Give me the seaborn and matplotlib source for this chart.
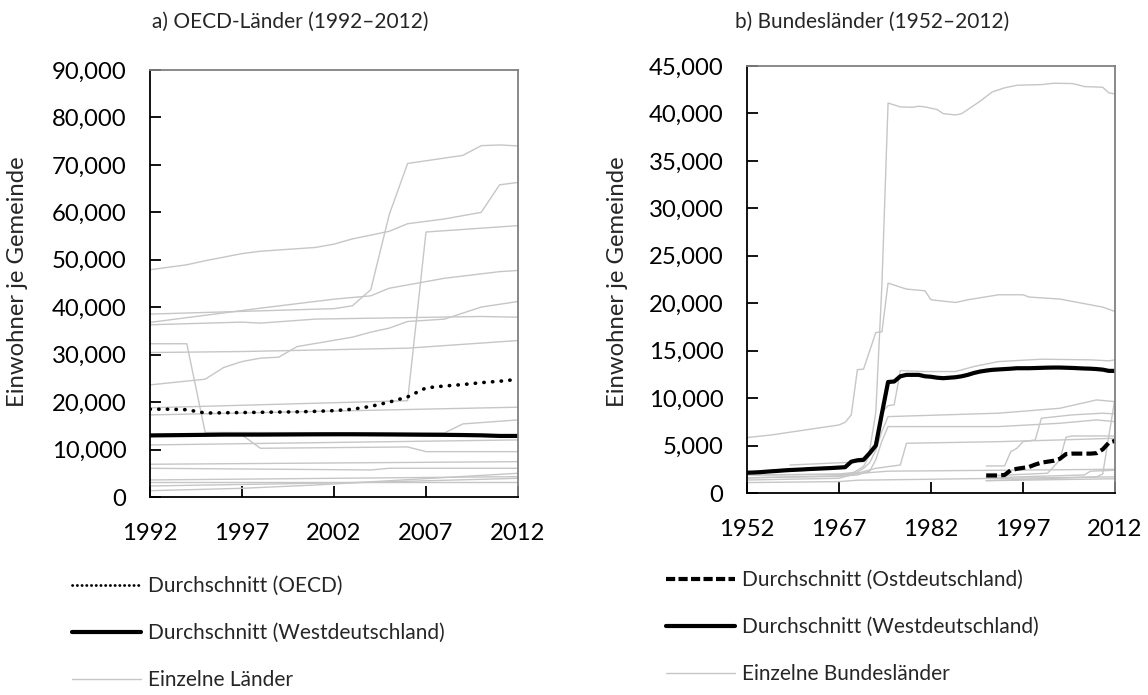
import numpy as np
import pandas as pd
import matplotlib
matplotlib.use("Agg")
import matplotlib.pyplot as plt
import seaborn as sns
from matplotlib.lines import Line2D
from matplotlib.ticker import FuncFormatter, MultipleLocator

sns.set_theme(style="white")
plt.rcParams["font.family"] = ["Lato", "DejaVu Sans"]

# ---------------- data: panel a) OECD countries (vertex years / values) ----------------
oecd_years = list(range(1992, 2013))
oecd_avg = [18500, 18500, 18400, 17700, 17750, 17800, 17850, 17900, 17950, 18050, 18200,
            18500, 19100, 20000, 21100, 23000, 23400, 23700, 24100, 24400, 24800]

country_years = [
    [1992, 2002, 2003, 2004, 2005, 2006, 2009, 2010, 2011, 2012],
    [1992, 1994, 1995, 1997, 1998, 2001, 2002, 2003, 2005, 2006, 2008, 2010, 2011, 2012],
    [1992, 2006, 2007, 2012],
    [1992, 1994, 1998, 2002, 2004, 2005, 2008, 2011, 2012],
    [1992, 1997, 1998, 2001, 2010, 2012],
    [1992, 1995, 1996, 1997, 1998, 1999, 2000, 2003, 2004, 2005, 2006, 2008, 2009, 2010, 2012],
    [1992, 1997, 2006, 2012],
    [1992, 1994, 1995, 2008, 2009, 2012],
    [1992, 2012],
    [1992, 1997, 1998, 2006, 2007, 2012],
    [1992, 2012],
    [1992, 2012],
    [1992, 2004, 2005, 2012],
    [1992, 2012],
    [1992, 2012],
    [1992, 2004, 2012],
    [1992, 1997, 2001, 2012],
]
country_values = [
    [38550, 39700, 40300, 43700, 59500, 70300, 72000, 74050, 74200, 74000],
    [47900, 48950, 49800, 51300, 51800, 52600, 53300, 54400, 56000, 57600, 58600, 60000, 65800, 66300],
    [18800, 20300, 55850, 57200],
    [36800, 37800, 39800, 41700, 42400, 44000, 46100, 47500, 47750],
    [36300, 36860, 36650, 37500, 38050, 37900],
    [23630, 24830, 27290, 28550, 29260, 29480, 31710, 33690, 34750, 35590, 36990, 37490, 38760, 40030, 41210],
    [30450, 30660, 31370, 32980],
    [32300, 32300, 13600, 13500, 15400, 16250],
    [17300, 18930],
    [13000, 13080, 10270, 10550, 9560, 9560],
    [10970, 12030],
    [6900, 7450],
    [6050, 5700, 6050, 6050],
    [3590, 4290],
    [3100, 3100],
    [2320, 3100, 3940],
    [1330, 1830, 2530, 5000],
]

# ---------------- data: panel b) German states ----------------
west_years = list(range(1952, 2013))
west_avg = [2140, 2160, 2190, 2240, 2290, 2330, 2380, 2420, 2450, 2480, 2520, 2550, 2580, 2610,
            2640, 2680, 2720, 3300, 3450, 3500, 4200, 5000, 8400, 11700, 11750, 12300, 12450,
            12450, 12450, 12300, 12250, 12150, 12100, 12150, 12200, 12300, 12450, 12650, 12800,
            12900, 12980, 13020, 13060, 13100, 13150, 13150, 13150, 13170, 13190, 13210, 13220,
            13220, 13200, 13180, 13150, 13120, 13100, 13060, 13000, 12870, 12870]

east_years = list(range(1991, 2013))
east_avg = [1850, 1850, 1850, 1900, 2400, 2550, 2650, 2750, 3000, 3200, 3300, 3400, 3600,
            4100, 4150, 4150, 4150, 4150, 4200, 4600, 5300, 5500]

state_years = [
    [1959, 1971, 1972, 1973, 1974, 1975, 1977, 1979, 1980, 1981, 1983, 1984, 1986, 1987, 1988,
     1990, 1992, 1994, 1996, 2000, 2002, 2005, 2006, 2007, 2010, 2011, 2012],
    [1952, 1956, 1967, 1968, 1969, 1970, 1971, 1973, 1974, 1975, 1978, 1981, 1982, 1986, 1988,
     1993, 1997, 1998, 2003, 2010, 2012],
    [1952, 1960, 1967, 1969, 1971, 1972, 1973, 1974, 1975, 1976, 1977, 1981, 1986, 1989, 1993,
     2000, 2008, 2011, 2012],
    [1952, 1960, 1967, 1970, 1972, 1973, 1974, 1975, 1993, 2003, 2009, 2012],
    [1952, 1960, 1967, 1970, 1971, 1972, 1973, 1974, 1975, 1993, 2003, 2009, 2012],
    [1952, 1967, 1970, 1973, 1975, 1977, 1978, 1993, 2003, 2012],
    [1952, 1967, 1970, 1975, 2012],
    [1952, 1967, 1970, 2012],
    [1991, 1994, 1995, 1996, 1997, 1999, 2000, 2005, 2010, 2012],
    [1991, 2001, 2003, 2004, 2005, 2012],
    [1991, 2009, 2010, 2011, 2012],
    [1991, 2012],
    [1991, 2007, 2008, 2012],
]
state_values = [
    [2950, 3300, 4500, 8500, 22000, 41100, 40690, 40650, 40760, 40690, 40410, 39980, 39840,
     39980, 40410, 41290, 42270, 42700, 42970, 43040, 43180, 43150, 43010, 42830, 42760, 42170, 42060],
    [5840, 6120, 7170, 7450, 8230, 13000, 13050, 16910, 16990, 22120, 21490, 21310, 20360,
     20080, 20360, 20890, 20890, 20650, 20440, 19590, 19130],
    [1600, 1700, 1800, 2000, 2800, 4000, 5000, 8500, 9200, 9300, 12900, 12800, 12800, 13330,
     13850, 14100, 14030, 13930, 14030],
    [1600, 1700, 1750, 1900, 2300, 3500, 5500, 7000, 7000, 7350, 7700, 7520],
    [1900, 1950, 2000, 2200, 2600, 3200, 4500, 6500, 8050, 8410, 8930, 9810, 9630],
    [1370, 1550, 2080, 2600, 2780, 2950, 5240, 5410, 5590, 5770],
    [1900, 1950, 2050, 2300, 2500],
    [1100, 1200, 1350, 1700],
    [2850, 2850, 4360, 4710, 5410, 5590, 7880, 8230, 8410, 8330],
    [1800, 2080, 3480, 5870, 6010, 6010],
    [1300, 1700, 2000, 6000, 10000],
    [1300, 1500],
    [1600, 1900, 2300, 2400],
]

titles = ["a) OECD-Länder (1992–2012)", "b) Bundesländer (1952–2012)"]
ylabel = "Einwohner je Gemeinde"
legend_a = ["Durchschnitt (OECD)", "Durchschnitt (Westdeutschland)", "Einzelne Länder"]
legend_b = ["Durchschnitt (Ostdeutschland)", "Durchschnitt (Westdeutschland)", "Einzelne Bundesländer"]


def long_frame(years_list, values_list):
    rows = []
    for i, (ys, vs) in enumerate(zip(years_list, values_list)):
        for y, v in zip(ys, vs):
            rows.append({"id": i, "year": y, "value": v})
    return pd.DataFrame(rows)


df_countries = long_frame(country_years, country_values)
df_states = long_frame(state_years, state_values)
df_west = pd.DataFrame({"year": west_years, "value": west_avg})
df_west_a = df_west[df_west["year"] >= 1992]
df_east = pd.DataFrame({"year": east_years, "value": east_avg})
df_oecd = pd.DataFrame({"year": oecd_years, "value": oecd_avg})

GRAY = "#c6c6c6"
FS = 17.2       # tick labels, axis label
FS_TXT = 15     # titles, legend

fig = plt.figure(figsize=(11.48, 6.95), dpi=100)
axL = fig.add_axes([150 / 1148, 1 - 497 / 695, 368 / 1148, 427 / 695])
axR = fig.add_axes([747 / 1148, 1 - 493 / 695, 368 / 1148, 427 / 695])

dot_style = (0, (0.1, 2.3))
dash_style = (0, (2.6, 1.0))

# panel a
sns.lineplot(data=df_countries, x="year", y="value", units="id", estimator=None,
             color=GRAY, lw=1.0, ax=axL, legend=False, sort=False)
sns.lineplot(data=df_west_a, x="year", y="value", color="black", lw=3.0, ax=axL, legend=False)
sns.lineplot(data=df_oecd, x="year", y="value", color="black", lw=2.6, ax=axL, legend=False,
             linestyle=dot_style, dash_capstyle="round")

# panel b
sns.lineplot(data=df_states, x="year", y="value", units="id", estimator=None,
             color=GRAY, lw=1.0, ax=axR, legend=False, sort=False)
sns.lineplot(data=df_west, x="year", y="value", color="black", lw=3.0, ax=axR, legend=False)
sns.lineplot(data=df_east, x="year", y="value", color="black", lw=3.0, ax=axR, legend=False,
             linestyle=dash_style)

fmt = FuncFormatter(lambda v, p: f"{v:,.0f}")
for ax, (x0, x1), ymax, ystep, xt in [
    (axL, (1992, 2012), 90000, 10000, [1992, 1997, 2002, 2007, 2012]),
    (axR, (1952, 2012), 45000, 5000, [1952, 1967, 1982, 1997, 2012]),
]:
    ax.set_xlim(x0, x1)
    ax.set_ylim(0, ymax)
    ax.set_xticks(xt)
    ax.yaxis.set_major_locator(MultipleLocator(ystep))
    ax.yaxis.set_major_formatter(fmt)
    ax.set_xlabel("")
    ax.set_ylabel("")
    for s in ["left", "bottom"]:
        ax.spines[s].set_color("black")
        ax.spines[s].set_linewidth(1.3)
    for s in ["top", "right"]:
        ax.spines[s].set_color("#808080")
        ax.spines[s].set_linewidth(1.3)
    ax.tick_params(axis="both", direction="in", length=8, width=1.3, color="black",
                   labelsize=FS, labelcolor="black", left=True, bottom=True, top=False, right=False)
    ax.tick_params(axis="y", pad=17)
    ax.tick_params(axis="x", pad=19)

fig.text(152 / 1148, 1 - 22 / 695, titles[0], fontsize=FS_TXT, ha="left", va="center")
fig.text(735 / 1148, 1 - 22 / 695, titles[1], fontsize=FS_TXT, ha="left", va="center")
fig.text(18 / 1148, 1 - 282 / 695, ylabel, fontsize=FS, rotation=90, ha="center", va="center")
fig.text(617 / 1148, 1 - 282 / 695, ylabel, fontsize=FS, rotation=90, ha="center", va="center")

handles_a = [Line2D([], [], color="black", lw=2.0, linestyle=(0, (0.1, 1.6)), dash_capstyle="round"),
             Line2D([], [], color="black", lw=3.0),
             Line2D([], [], color=GRAY, lw=1.0)]
handles_b = [Line2D([], [], color="black", lw=3.0, linestyle=(0, (2.2, 0.8))),
             Line2D([], [], color="black", lw=3.0),
             Line2D([], [], color=GRAY, lw=1.0)]

for handles, labels, x, y in [(handles_a, legend_a, 72, 576), (handles_b, legend_b, 666, 570)]:
    fig.legend(handles, labels, loc="upper left", bbox_to_anchor=(x / 1148, 1 - y / 695),
               frameon=False, fontsize=FS_TXT, handlelength=3.3, handletextpad=0.33,
               labelspacing=1.3, borderaxespad=0, borderpad=0)

fig.savefig("out.png", dpi=100)
